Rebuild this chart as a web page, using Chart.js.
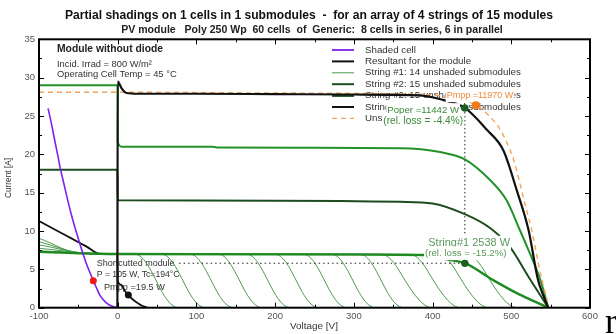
<!DOCTYPE html>
<html><head><meta charset="utf-8">
<script src="https://cdn.jsdelivr.net/npm/chart.js@4"></script>
<style>html,body{margin:0;padding:0;background:#fff;overflow:hidden}canvas{display:block}</style>
</head><body>
<canvas id="c" width="616" height="334"></canvas>
<script>
// ---------- data ----------
const xTickValues = [-100, 0, 100, 200, 300, 400, 500, 600];
const xTickLabels = ['-100', '0', '100', '200', '300', '400', '500', '600'];
const yTickValues = [0, 5, 10, 15, 20, 25, 30, 35];
const yTickLabels = ['0', '5', '10', '15', '20', '25', '30', '35'];

const shadedCellV = [-88.5,-84,-80,-76,-73,-68,-63,-58,-53,-48,-44,-40,-35,-31,-27,-22.5,-18,-14,-10,-6,-3,0,3];
const shadedCellI = [26.0,23.9,21.8,19.8,18.2,16.0,13.8,11.8,10.0,8.3,7.0,5.8,4.5,3.5,2.6,1.6,1.0,0.6,0.32,0.15,0.06,0,0];

const moduleV = [-100,-80,-60,-40,-22,-10,-0.4,0,4,9,13.5,20,26,31,37];
const moduleI = [11.3,10.2,9.1,8.0,7.0,7.0,7.0,3.6,3.0,2.2,1.65,1.0,0.57,0.25,0.05];

const arrayV = [-0.4,0,5,11,26,100,200,300,384,413,441,469,490,507,522,534,541,547];
const arrayI = [0,29.5,28.6,28.0,27.9,27.9,27.85,27.8,27.7,27.1,26.05,23.2,20.5,15.3,10.1,3.6,1.5,0];

const unshadedV = [-100,0,100,200,300,350,400,430,455,472,486,503,510,518,526,537,548];
const unshadedI = [28.1,28.1,28.05,28.0,27.95,27.9,27.75,27.3,26.4,25.0,23.2,19.3,16.6,13.3,10.1,4.5,0];

const strings3V = [-100,-0.4,0,5,120,126,250,359,409.5,441,473,494,511,520,537,547];
const strings3I = [29.0,29.0,21.6,21.0,21.0,20.9,20.85,20.8,20.3,19.35,16.65,14.0,10.1,7.95,3.6,0];

const strings2V = [-100,-0.4,0,200,359,400,441,473,498,522,547];
const strings2I = [18.0,18.0,14.0,13.95,13.8,13.6,12.2,10.4,7.95,4.0,0];

const string1V = [-100,-50,0,200,388,418,441,477,507,530,547];
const string1I = [7.3,7.1,7.0,6.95,6.85,6.3,5.8,3.6,1.9,0.8,0];

const moduleCurves = [
  [[-100,9.05],[-45,7.05],[0,7.0],[23,6.95],[31,6.5],[39,5.4],[47,3.9],[55,2.3],[63,1.0],[69,0.35],[75,0]],
  [[-100,8.6],[-40,7.05],[0,7.0],[57,6.95],[65,6.5],[73,5.4],[81,3.9],[89,2.3],[97,1.0],[103,0.35],[109,0]],
  [[-100,8.2],[-35,7.05],[0,7.0],[93,6.95],[101,6.5],[109,5.4],[117,3.9],[125,2.3],[133,1.0],[139,0.35],[145,0]],
  [[-100,7.75],[-30,7.05],[0,7.0],[129,6.95],[137,6.5],[145,5.4],[153,3.9],[161,2.3],[169,1.0],[175,0.35],[181,0]],
  [[-100,7.4],[-25,7.05],[0,7.0],[165,6.95],[173,6.5],[181,5.4],[189,3.9],[197,2.3],[205,1.0],[211,0.35],[217,0]],
  [[0,7.0],[201,6.95],[209,6.5],[217,5.4],[225,3.9],[233,2.3],[241,1.0],[247,0.35],[253,0]],
  [[0,7.0],[237,6.95],[245,6.5],[253,5.4],[261,3.9],[269,2.3],[277,1.0],[283,0.35],[289,0]],
  [[0,7.0],[273,6.95],[281,6.5],[289,5.4],[297,3.9],[305,2.3],[313,1.0],[319,0.35],[325,0]],
  [[0,7.0],[309,6.95],[317,6.5],[325,5.4],[333,3.9],[341,2.3],[349,1.0],[355,0.35],[361,0]],
  [[0,7.0],[335,6.95],[345,6.5],[354,5.4],[363,3.9],[373,2.3],[383,1.0],[390,0.35],[397,0]],
  [[0,7.0],[371,6.95],[381,6.5],[390,5.4],[399,3.9],[409,2.3],[419,1.0],[426,0.35],[433,0]],
  [[0,7.0],[407,6.95],[417,6.5],[426,5.4],[435,3.9],[445,2.3],[455,1.0],[462,0.35],[469,0]],
  [[0,7.0],[443,6.95],[453,6.5],[462,5.4],[471,3.9],[481,2.3],[491,1.0],[498,0.35],[505,0]]
];

const operV = [441, 441];
const operI = [26.05, 5.8];
const shortLineV = [78, 441];
const shortLineI = [5.8, 5.8];

const pointsArrayOper = [[441, 26.05]];
const pointsMpp = [[455, 26.4]];
const pointsString1 = [[441, 5.8]];
const pointsShadedCell = [[-31, 3.5]];
const pointsModule = [[13.5, 1.65]];

const legendLabels = ['Shaded cell','Resultant for the module','String #1: 14 unshaded submodules','String #2: 15 unshaded submodules','String #2: 15 unshaded submodules','String #2: 15 unshaded submodules','Unshaded array'];

// ---------- build ----------
const FONT = '"Liberation Sans", Arial, Helvetica, sans-serif';
const C = {purple:'#7b22ee', black:'#111', lightGreen:'#4d9a4d', green:'#23922b', dark:'#1d4d1f', s1:'#1f8a22', orange:'#f5a35a'};
const pts = (V, I) => V.map((v, i) => ({x: v, y: I[i]}));
const pp = a => a.map(p => ({x: p[0], y: p[1]}));

function line(data, color, width, order, extra) {
  return Object.assign({data, showLine: true, borderColor: color, borderWidth: width, pointRadius: 0,
    cubicInterpolationMode: 'monotone', fill: false, order}, extra || {});
}
function dots(data, color, r) {
  return {data, showLine: false, pointRadius: r, pointBackgroundColor: color, pointBorderWidth: 0, order: 0};
}

const datasets = [
  dots(pp(pointsArrayOper), '#1b5e20', 3.5),
  dots(pp(pointsMpp), '#f07a1a', 4),
  dots(pp(pointsString1), '#1b5e20', 3.5),
  dots(pp(pointsShadedCell), '#f01818', 3.5),
  dots(pp(pointsModule), '#111', 3.5),
  line(pts(shadedCellV, shadedCellI), C.purple, 1.6, 1),
  line(pts(arrayV, arrayI), C.black, 2.2, 2),
  line(pts(unshadedV, unshadedI), C.orange, 1.4, 3, {borderDash: [5, 4]}),
  line(pts(strings3V, strings3I), C.green, 2, 4),
  line(pts(strings2V, strings2I), C.dark, 2, 5),
  line(pts(string1V, string1I), C.s1, 2.4, 6),
  line(pts(moduleV, moduleI), C.black, 1.8, 7),
  line(pts(operV, operI), '#222', 1, 8, {borderDash: [1.5, 2.5], cubicInterpolationMode: 'default', tension: 0}),
  line(pts(shortLineV, shortLineI), '#222', 1, 8, {borderDash: [1.5, 3], cubicInterpolationMode: 'default', tension: 0})
];
moduleCurves.forEach(c => datasets.push(line(pp(c), C.lightGreen, 1, 9)));

function fitFont(ctx, text, width, bold) {
  ctx.font = (bold ? 'bold ' : '') + '100px ' + FONT;
  return 100 * width / ctx.measureText(text).width;
}
function txt(ctx, text, x, y, width, color, bold, bg, align) {
  const s = fitFont(ctx, text, width, bold);
  ctx.font = (bold ? 'bold ' : '') + s.toFixed(2) + 'px ' + FONT;
  ctx.textBaseline = 'middle';
  ctx.textAlign = align || 'left';
  const w = ctx.measureText(text).width;
  const x0 = align === 'center' ? x - w / 2 : x;
  if (bg) { ctx.fillStyle = '#fff'; ctx.fillRect(x0 - 1, y - s / 2 - 2, w + 2, s + 4); }
  ctx.fillStyle = color;
  ctx.fillText(text, x, y);
}

const textPlugin = {
  id: 'texts',
  beforeDatasetsDraw(chart) {
    const ctx = chart.ctx;
    ctx.save();
    // legend
    const lc = [C.purple, C.black, C.lightGreen, C.dark, C.dark, C.black, C.orange];
    const lw = [1.8, 2, 1, 2, 2.6, 2, 1.4];
    const s = fitFont(ctx, legendLabels[2], 156, false);
    for (let i = 0; i < legendLabels.length; i++) {
      const y = 50 + 11.4 * i;
      ctx.beginPath();
      ctx.strokeStyle = lc[i]; ctx.lineWidth = lw[i];
      ctx.setLineDash(i === 6 ? [5, 4] : []);
      ctx.moveTo(332, y); ctx.lineTo(354, y); ctx.stroke();
      ctx.setLineDash([]);
      ctx.font = s.toFixed(2) + 'px ' + FONT;
      ctx.fillStyle = '#333'; ctx.textBaseline = 'middle'; ctx.textAlign = 'left';
      ctx.fillText(legendLabels[i], 365, y);
    }
    // info box
    txt(ctx, 'Module without diode', 57, 49.3, 106, '#222', true);
    txt(ctx, 'Incid. Irrad = 800 W/m²', 57, 64, 95, '#333', false);
    txt(ctx, 'Operating Cell Temp = 45 °C', 57, 74.3, 120, '#333', false);
    // shortcut module
    txt(ctx, 'Shortcutted module', 96.7, 263.3, 78, '#333', false);
    txt(ctx, 'P = 105 W, Tc=194°C', 96.7, 275, 83, '#333', false);
    txt(ctx, 'Pmpp =19.5 W', 104, 287.3, 61, '#333', false);
    ctx.restore();
  },
  afterDatasetsDraw(chart) {
    const ctx = chart.ctx;
    ctx.save();
    txt(ctx, 'Pmpp =11970 W', 446.7, 95.7, 66.6, '#f08a3a', false, true);
    txt(ctx, 'Poper =11442 W', 387.3, 110, 72, '#3b8a3b', false, true);
    txt(ctx, '(rel. loss = -4.4%)', 383.3, 121, 80, '#3b8a3b', false, true);
    txt(ctx, 'String#1 2538 W', 428.3, 243.3, 81.7, '#5a9a5a', false, true);
    txt(ctx, '(rel. loss = -15.2%)', 425, 253.3, 81.7, '#5a9a5a', false, true);
    // redraw operating dots on top of labels
    const xs = chart.scales.x, ys = chart.scales.y;
    [[pointsArrayOper, '#1b5e20', 3.5], [pointsMpp, '#f07a1a', 4], [pointsString1, '#1b5e20', 3.5]].forEach(([arr, col, r]) => {
      arr.forEach(p => {
        ctx.beginPath(); ctx.fillStyle = col;
        ctx.arc(xs.getPixelForValue(p[0]), ys.getPixelForValue(p[1]), r, 0, Math.PI * 2); ctx.fill();
      });
    });
    ctx.restore();
  },
  afterDraw(chart) {
    const ctx = chart.ctx;
    const {left, right, top, bottom} = chart.chartArea;
    const xs = chart.scales.x, ys = chart.scales.y;
    ctx.save();
    ctx.strokeStyle = '#000'; ctx.lineWidth = 1;
    ctx.beginPath();
    for (let v = -100; v <= 600; v += 50) {
      const px = Math.round(xs.getPixelForValue(v)) + 0.5;
      const len = v % 100 === 0 ? 5 : 3;
      ctx.moveTo(px, bottom); ctx.lineTo(px, bottom - len);
      ctx.moveTo(px, top); ctx.lineTo(px, top + len);
    }
    for (let v = 0; v <= 35; v += 2.5) {
      const py = Math.round(ys.getPixelForValue(v)) + 0.5;
      const len = v % 5 === 0 ? 5 : 3;
      ctx.moveTo(left, py); ctx.lineTo(left + len, py);
      ctx.moveTo(right, py); ctx.lineTo(right - len, py);
    }
    ctx.stroke();
    ctx.lineWidth = 2;
    ctx.strokeRect(left, top, right - left, bottom - top);
    // titles
    txt(ctx, 'Partial shadings on 1 cells in 1 submodules  -  for an array of 4 strings of 15 modules', 309, 16, 488, '#111', true, false, 'center');
    txt(ctx, 'PV module   Poly 250 Wp  60 cells  of  Generic:  8 cells in series, 6 in parallel', 312, 30.5, 382, '#222', true, false, 'center');
    txt(ctx, 'Voltage [V]', 314, 326, 48, '#333', false, false, 'center');
    ctx.save();
    ctx.translate(9, 178); ctx.rotate(-Math.PI / 2);
    txt(ctx, 'Current [A]', 0, 0, 40, '#333', false, false, 'center');
    ctx.restore();
    // stray glyph at the picture edge
    ctx.font = '36px "Liberation Serif", "Times New Roman", serif';
    ctx.fillStyle = '#000'; ctx.textAlign = 'left'; ctx.textBaseline = 'alphabetic';
    ctx.fillText('r', 605, 333);
    ctx.restore();
  }
};

new Chart(document.getElementById('c'), {
  type: 'scatter',
  data: {datasets},
  options: {
    responsive: false, animation: false, devicePixelRatio: 1,
    layout: {padding: {left: 0, right: 26, top: 39.3, bottom: 0}},
    plugins: {legend: {display: false}, tooltip: {enabled: false}, title: {display: false}},
    scales: {
      x: {
        type: 'linear', min: -100, max: 600,
        afterFit(s) { s.height = 26.3; },
        afterBuildTicks(s) { s.ticks = xTickValues.map(v => ({value: v})); },
        grid: {display: false, drawTicks: false}, border: {display: false},
        ticks: {padding: 3, color: '#555', font: {family: FONT, size: 9.5}, maxRotation: 0, autoSkip: false,
          callback: v => xTickLabels[xTickValues.indexOf(v)]}
      },
      y: {
        type: 'linear', min: 0, max: 35,
        afterFit(s) { s.width = 39; },
        afterBuildTicks(s) { s.ticks = yTickValues.map(v => ({value: v})); },
        grid: {display: false, drawTicks: false}, border: {display: false},
        ticks: {padding: 4, color: '#555', font: {family: FONT, size: 9.5}, autoSkip: false,
          callback: v => yTickLabels[yTickValues.indexOf(v)]}
      }
    }
  },
  plugins: [textPlugin]
});
</script>
</body></html>
